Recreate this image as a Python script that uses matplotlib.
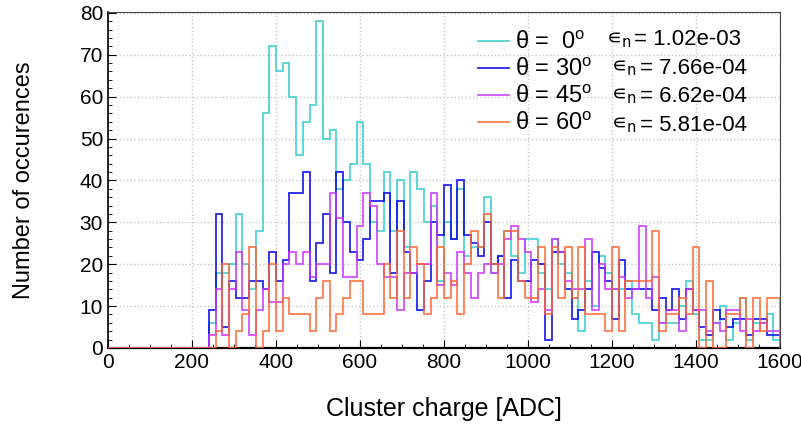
import numpy as np
import matplotlib
matplotlib.use('Agg')
import matplotlib.pyplot as plt
from matplotlib.ticker import MultipleLocator

# histogram binning: 100 bins from 0 to 1600 ADC
bin_edges = np.linspace(0, 1600, 101)

# bin contents for bins 15..99 (bins 0..14 are empty)
counts_0 = [6, 18, 18, 20, 32, 20, 14, 28, 56, 72, 66, 68, 60, 46, 54, 58, 78, 50, 52, 38,
            40, 44, 54, 44, 30, 28, 42, 28, 40, 24, 42, 38, 30, 34, 16, 30, 26, 38, 22, 24,
            24, 36, 18, 22, 28, 22, 18, 26, 26, 18, 14, 26, 20, 18, 12, 4, 16, 10, 22, 18,
            14, 14, 16, 8, 6, 6, 2, 6, 6, 6, 10, 16, 8, 2, 2, 6, 10, 2, 6, 12,
            2, 6, 6, 8, 2]
counts_30 = [9, 32, 5, 16, 12, 12, 16, 16, 14, 23, 16, 21, 37, 37, 42, 16, 25, 32, 18, 42,
             30, 23, 21, 26, 35, 35, 37, 18, 35, 23, 18, 9, 16, 30, 27, 39, 26, 40, 27, 25,
             22, 30, 20, 22, 12, 21, 16, 16, 21, 20, 2, 23, 23, 14, 7, 9, 14, 23, 19, 16,
             7, 21, 14, 14, 14, 14, 9, 12, 9, 14, 7, 14, 9, 5, 3, 9, 7, 5, 7, 7,
             3, 7, 7, 3, 3]
counts_45 = [3, 14, 3, 14, 23, 9, 3, 9, 14, 11, 11, 20, 23, 20, 23, 17, 20, 20, 37, 31,
             17, 17, 29, 37, 34, 20, 17, 17, 9, 18, 18, 20, 20, 37, 15, 18, 15, 23, 18, 12,
             18, 20, 18, 20, 26, 29, 26, 23, 11, 14, 9, 26, 23, 16, 14, 14, 26, 9, 20, 14,
             14, 17, 12, 14, 29, 12, 17, 6, 9, 9, 4, 14, 9, 9, 4, 6, 4, 9, 9, 4,
             7, 4, 6, 4, 4]
counts_60 = [0, 4, 20, 0, 4, 8, 24, 0, 4, 20, 4, 12, 8, 8, 8, 4, 12, 16, 4, 8,
             12, 16, 16, 8, 8, 8, 20, 12, 28, 12, 24, 20, 8, 12, 24, 12, 16, 8, 20, 28,
             24, 32, 20, 12, 28, 28, 16, 12, 12, 24, 8, 24, 12, 24, 12, 24, 8, 8, 8, 4,
             24, 4, 16, 16, 16, 16, 28, 4, 8, 8, 12, 8, 24, 0, 16, 0, 0, 8, 8, 12,
             0, 12, 4, 12, 12]

angles = [0, 30, 45, 60]
efficiencies = ['1.02e-03', '7.66e-04', '6.62e-04', '5.81e-04']
colors = ['#33cccc', '#0000ee', '#cc33ff', '#ff6633']

plt.rcParams['font.family'] = ['Liberation Sans', 'DejaVu Sans']
plt.rcParams['mathtext.fontset'] = 'custom'
plt.rcParams['mathtext.rm'] = 'Liberation Sans'
plt.rcParams['mathtext.it'] = 'Liberation Sans'

fig = plt.figure(figsize=(8.01, 4.28), dpi=100)
ax = fig.add_axes([0.1348, 0.187, 0.839, 0.785])

all_counts = [counts_0, counts_30, counts_45, counts_60]
for ang, col, cnt in zip(angles, colors, all_counts):
    vals = np.zeros(100)
    vals[15:] = cnt
    num = (' %d' % ang) if ang < 10 else ('%d' % ang)
    lab = u'\u03b8 = ' + num + r'$^{\rm o}$'
    ax.stairs(vals, bin_edges, color=col, lw=1.3, alpha=0.85, label=lab, zorder=3)

ax.set_xlim(0, 1600)
ax.set_ylim(0, 80.2)
ax.xaxis.set_major_locator(MultipleLocator(200))
ax.xaxis.set_minor_locator(MultipleLocator(50))
ax.yaxis.set_major_locator(MultipleLocator(10))
ax.yaxis.set_minor_locator(MultipleLocator(2))
ax.tick_params(which='both', direction='in', top=False, right=False, labelsize=15)
ax.tick_params(which='major', length=6)
ax.tick_params(which='minor', length=3)
ax.grid(True, which='major', ls=':', color='#c8c8c8', lw=1)
ax.set_axisbelow(True)

for s in ['top', 'right']:
    ax.spines[s].set_linestyle((0, (3, 1)))
    ax.spines[s].set_color('#444444')
ax.spines['left'].set_linewidth(1.2)
ax.spines['bottom'].set_linewidth(1.6)

ax.set_xlabel('Cluster charge [ADC]', fontsize=18, labelpad=18)
ax.set_ylabel('Number of occurences', fontsize=17, labelpad=32)

leg = ax.legend(loc='upper left', bbox_to_anchor=(0.551, 0.94), frameon=False,
                fontsize=17, handlelength=1.3, handletextpad=0.25, labelspacing=0.2,
                borderaxespad=0, borderpad=0)

# efficiency column next to the legend entries
eps_x = [0.741, 0.749, 0.749, 0.749]
for i, eff in enumerate(efficiencies):
    y = 0.917 - i * 0.0845
    ax.text(eps_x[i], y, u'$\u220a_{\\rm n}$', transform=ax.transAxes, fontsize=15,
            ha='left', va='center', math_fontfamily='dejavusans')
    ax.text(eps_x[i] + 0.042, y, '= ' + eff, transform=ax.transAxes, fontsize=16,
            ha='left', va='center')

fig.savefig('out.png', dpi=100)
